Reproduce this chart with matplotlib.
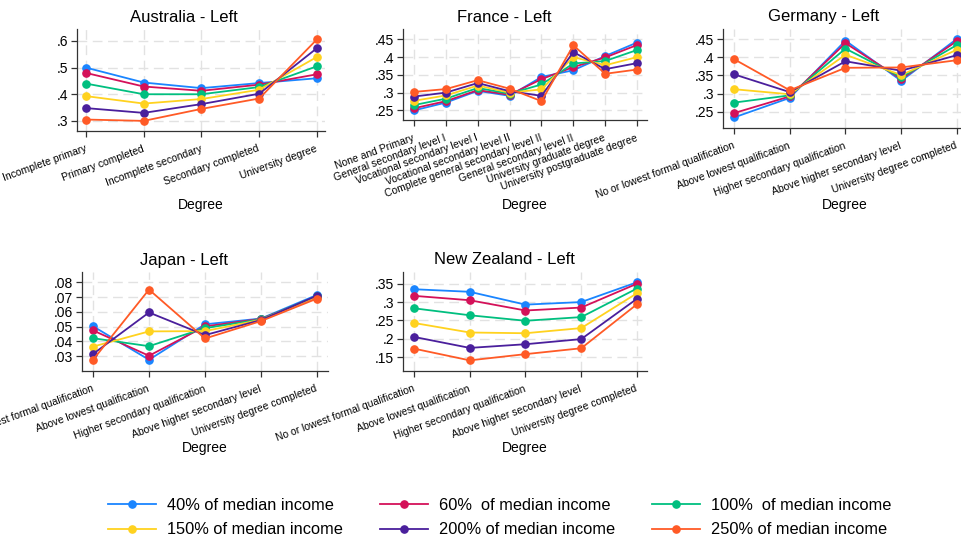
import numpy as np
import matplotlib
matplotlib.use("Agg")
import matplotlib.pyplot as plt
from matplotlib.lines import Line2D
from matplotlib.ticker import FuncFormatter

plt.rcParams["font.family"] = ["Liberation Sans", "DejaVu Sans"]

# Series labels and colours
series_labels = ["40% of median income", "60%  of median income", "100%  of median income",
                 "150% of median income", "200% of median income", "250% of median income"]
colors = ["#1A85FF", "#D41159", "#00BF7F", "#FFD21F", "#4A1F9C", "#FF5A26"]

# Degree categories
au_cats = ["Incomplete primary", "Primary completed", "Incomplete secondary",
           "Secondary completed", "University degree"]
fr_cats = ["None and Primary", "General secondary level I", "Vocational secondary level I",
           "Vocational secondary level II", "Complete general secondary level II",
           "General secondary level II", "University graduate degree",
           "University postgraduate degree"]
qual_cats = ["No or lowest formal qualification", "Above lowest qualification",
             "Higher secondary qualification", "Above higher secondary level",
             "University degree completed"]

# Australia (rows: 40, 60, 100, 150, 200, 250 % of median income)
au_vals = [
    [0.500, 0.444, 0.423, 0.442, 0.460],
    [0.480, 0.429, 0.413, 0.436, 0.475],
    [0.440, 0.400, 0.400, 0.427, 0.505],
    [0.393, 0.365, 0.382, 0.417, 0.540],
    [0.348, 0.330, 0.363, 0.402, 0.573],
    [0.305, 0.300, 0.345, 0.384, 0.606],
]
# France
fr_vals = [
    [0.250, 0.272, 0.305, 0.291, 0.344, 0.363, 0.403, 0.441],
    [0.256, 0.276, 0.307, 0.294, 0.338, 0.372, 0.399, 0.434],
    [0.265, 0.283, 0.313, 0.297, 0.323, 0.382, 0.389, 0.420],
    [0.277, 0.292, 0.320, 0.300, 0.309, 0.400, 0.377, 0.400],
    [0.289, 0.300, 0.327, 0.304, 0.291, 0.414, 0.366, 0.383],
    [0.302, 0.310, 0.335, 0.311, 0.276, 0.433, 0.353, 0.365],
]
# Germany
de_vals = [
    [0.234, 0.288, 0.446, 0.335, 0.451],
    [0.246, 0.292, 0.439, 0.340, 0.445],
    [0.275, 0.295, 0.424, 0.345, 0.434],
    [0.312, 0.298, 0.407, 0.351, 0.421],
    [0.353, 0.304, 0.389, 0.363, 0.406],
    [0.395, 0.309, 0.371, 0.372, 0.392],
]
# Japan
jp_vals = [
    [0.0503, 0.0276, 0.0516, 0.0555, 0.0715],
    [0.0475, 0.0303, 0.0502, 0.0553, 0.0700],
    [0.0422, 0.0368, 0.0490, 0.0550, 0.0707],
    [0.0365, 0.0468, 0.0470, 0.0547, 0.0703],
    [0.0315, 0.0596, 0.0443, 0.0545, 0.0710],
    [0.0275, 0.0751, 0.0420, 0.0538, 0.0690],
]
# New Zealand
nz_vals = [
    [0.335, 0.328, 0.293, 0.300, 0.354],
    [0.317, 0.305, 0.277, 0.285, 0.350],
    [0.283, 0.264, 0.249, 0.259, 0.337],
    [0.243, 0.217, 0.215, 0.229, 0.324],
    [0.205, 0.175, 0.185, 0.199, 0.309],
    [0.173, 0.141, 0.158, 0.174, 0.294],
]

au_ticks = [0.3, 0.4, 0.5, 0.6]
fr_ticks = [0.25, 0.3, 0.35, 0.4, 0.45]
de_ticks = [0.25, 0.3, 0.35, 0.4, 0.45]
jp_ticks = [0.03, 0.04, 0.05, 0.06, 0.07, 0.08]
nz_ticks = [0.15, 0.2, 0.25, 0.3, 0.35]

W, H = 961, 543
fig = plt.figure(figsize=(W / 100, H / 100), dpi=100)


def px_box(l, t, r, b):
    return [l / W, 1 - b / H, (r - l) / W, (b - t) / H]


# panel: title, cats, values, yticks, ylim, axes box (px), x margin (units), title pos, label pos
panels = [
    ("Australia - Left", au_cats, au_vals, au_ticks, (0.262, 0.645), (77, 29, 325, 131), (0.156, 0.14), 184, 17, 201, 205),
    ("France - Left", fr_cats, fr_vals, fr_ticks, (0.223, 0.479), (403, 29, 647, 120), (0.345, 0.31), 504, 17, 525, 205),
    ("Germany - Left", qual_cats, de_vals, de_ticks, (0.205, 0.478), (723, 29, 967, 128), (0.197, 0.18), 824, 17, 845, 205),
    ("Japan - Left", qual_cats, jp_vals, jp_ticks, (0.020, 0.087), (82, 272, 328, 371), (0.196, 0.196), 184, 260, 205, 448),
    ("New Zealand - Left", qual_cats, nz_vals, nz_ticks, (0.112, 0.382), (403, 272, 647, 371), (0.197, 0.18), 504, 260, 525, 448),
]

fmt = FuncFormatter(lambda v, p: ("%g" % v).lstrip("0"))

for title, cats, vals, yt, ylim, box, xm, tx, ty, lx, ly in panels:
    ax = fig.add_axes(px_box(*box))
    x = np.arange(len(cats))
    for row, c in zip(vals, colors):
        ax.plot(x, row, color=c, lw=1.3, marker="o", ms=5.2, clip_on=False, zorder=3)
    ax.set_xlim(-xm[0], len(cats) - 1 + xm[1])
    ax.set_ylim(*ylim)
    ax.set_yticks(yt)
    ax.yaxis.set_major_formatter(fmt)
    ax.set_xticks(x)
    ax.set_xticklabels(cats, rotation=20, ha="right", va="center",
                       rotation_mode="anchor", fontsize=7.5)
    ax.tick_params(axis="x", pad=8)
    ax.tick_params(axis="y", labelsize=10, pad=2)
    ax.tick_params(length=4.5, width=0.9, color="#333333")
    ax.grid(True, color="#e2e2e2", lw=1.0, ls=(0, (7, 4)), zorder=0)
    for s in ["top", "right"]:
        ax.spines[s].set_visible(False)
    for s in ["left", "bottom"]:
        ax.spines[s].set_color("#333333")
        ax.spines[s].set_linewidth(0.9)
    fig.text(tx / W, 1 - ty / H, title, ha="center", va="center", fontsize=12)
    fig.text(lx / W, 1 - ly / H, "Degree", ha="center", va="center", fontsize=10)

# Legend below the panels, filled row by row
order = [0, 3, 1, 4, 2, 5]
handles = [Line2D([0], [0], color=colors[i], lw=1.3, marker="o", ms=5.2) for i in order]
labels = [series_labels[i] for i in order]
fig.legend(handles, labels, ncol=3, loc="center", frameon=False,
           bbox_to_anchor=(500 / W, 1 - 517.5 / H), fontsize=11.8,
           handlelength=2.9, handletextpad=0.7, columnspacing=2.25, labelspacing=0.6,
           borderpad=0)

fig.savefig("out.png", dpi=100)
